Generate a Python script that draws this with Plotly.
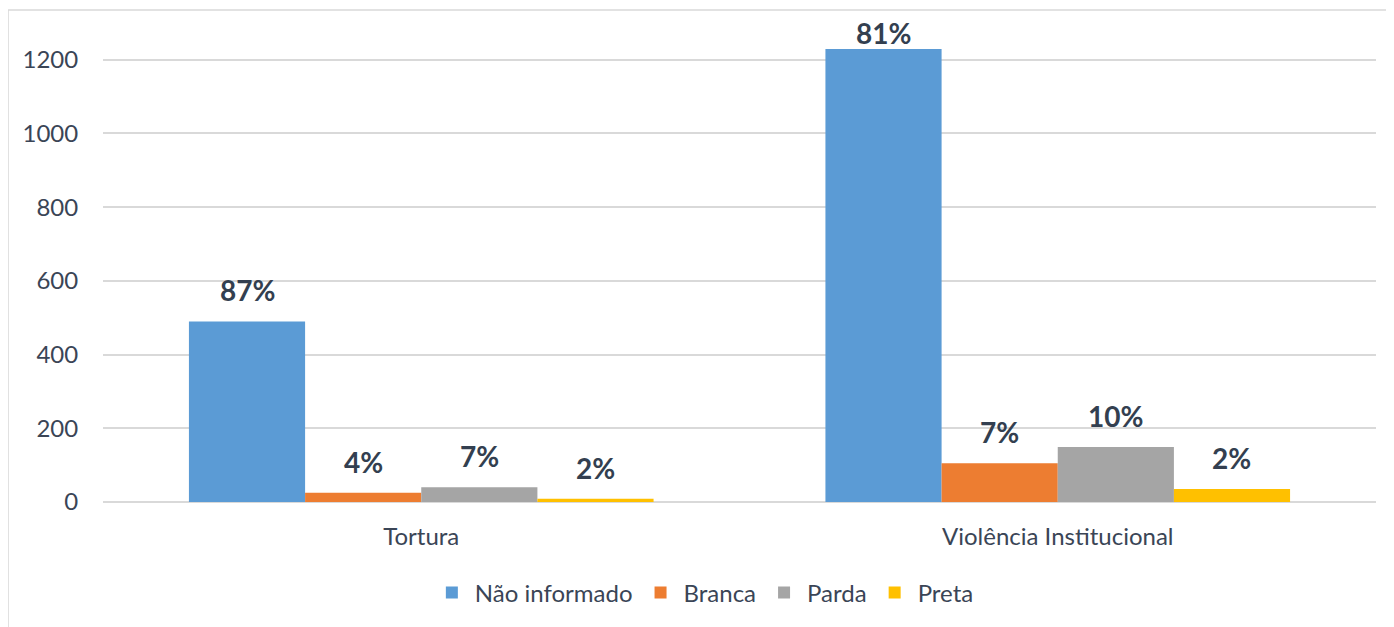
import plotly.graph_objects as go

categories = ["Tortura", "Violência Institucional"]
series_names = ["Não informado", "Branca", "Parda", "Preta"]
nao_informado = [490, 1229]
branca = [25, 105]
parda = [40, 149]
preta = [9, 35]
y_ticks = [0, 200, 400, 600, 800, 1000, 1200]

series_values = [nao_informado, branca, parda, preta]
colors = ["#5b9bd5", "#ed7d31", "#a5a5a5", "#ffc000"]
FONT = "Lato"
TXT = "#3a4556"
LBL = "#333f50"

xpos = list(range(len(categories)))
bargap = 0.27
n = len(series_names)
bw = (1 - bargap) / n

fig = go.Figure()
for name, vals, col in zip(series_names, series_values, colors):
    fig.add_trace(go.Bar(x=xpos, y=vals, name=name, marker=dict(color=col, line=dict(width=0))))

totals = [sum(s[i] for s in series_values) for i in range(len(categories))]
for j, vals in enumerate(series_values):
    for i, v in enumerate(vals):
        pct = round(v / totals[i] * 100)
        fig.add_annotation(
            x=xpos[i] - (1 - bargap) / 2 + bw * (j + 0.5), y=v,
            text=f"<b>{pct}%</b>", showarrow=False, yanchor="bottom",
            yshift=12 if v < 1100 else -3,
            font=dict(family=FONT, size=28, color=LBL),
        )

# chart frame (left and top edges)
fig.add_shape(type="line", xref="paper", yref="paper", x0=-0.0746, x1=1.03, y0=1, y1=1,
              line=dict(color="#d9d9d9", width=1.5))
fig.add_shape(type="line", xref="paper", yref="paper", x0=-0.0746, x1=-0.0746, y0=1, y1=-0.3,
              line=dict(color="#d9d9d9", width=1.5))

fig.update_layout(
    width=1394, height=627,
    margin=dict(l=95, r=26, t=2, b=133),
    paper_bgcolor="white", plot_bgcolor="white",
    barmode="group", bargap=bargap, bargroupgap=0,
    font=dict(family=FONT, size=24, color=TXT),
    showlegend=True,
    legend=dict(orientation="h", x=0.472, xanchor="center", y=-0.185, yanchor="middle",
                font=dict(family=FONT, size=24, color=TXT), itemwidth=36,
                traceorder="normal"),
    xaxis=dict(range=[-0.5, len(categories) - 0.5], tickvals=xpos, ticktext=categories,
               showgrid=False, zeroline=False, showline=False,
               ticks="outside", ticklen=13, tickcolor="rgba(0,0,0,0)",
               tickfont=dict(family=FONT, size=24, color=TXT)),
    yaxis=dict(range=[0, 1335], tickvals=y_ticks, showgrid=True, gridcolor="#d9d9d9", gridwidth=1.5,
               zeroline=True, zerolinecolor="#d9d9d9", zerolinewidth=1.5, showline=False,
               ticks="outside", ticklen=19, tickcolor="rgba(0,0,0,0)",
               tickfont=dict(family=FONT, size=24, color=TXT)),
)

fig.write_html("out.html")
